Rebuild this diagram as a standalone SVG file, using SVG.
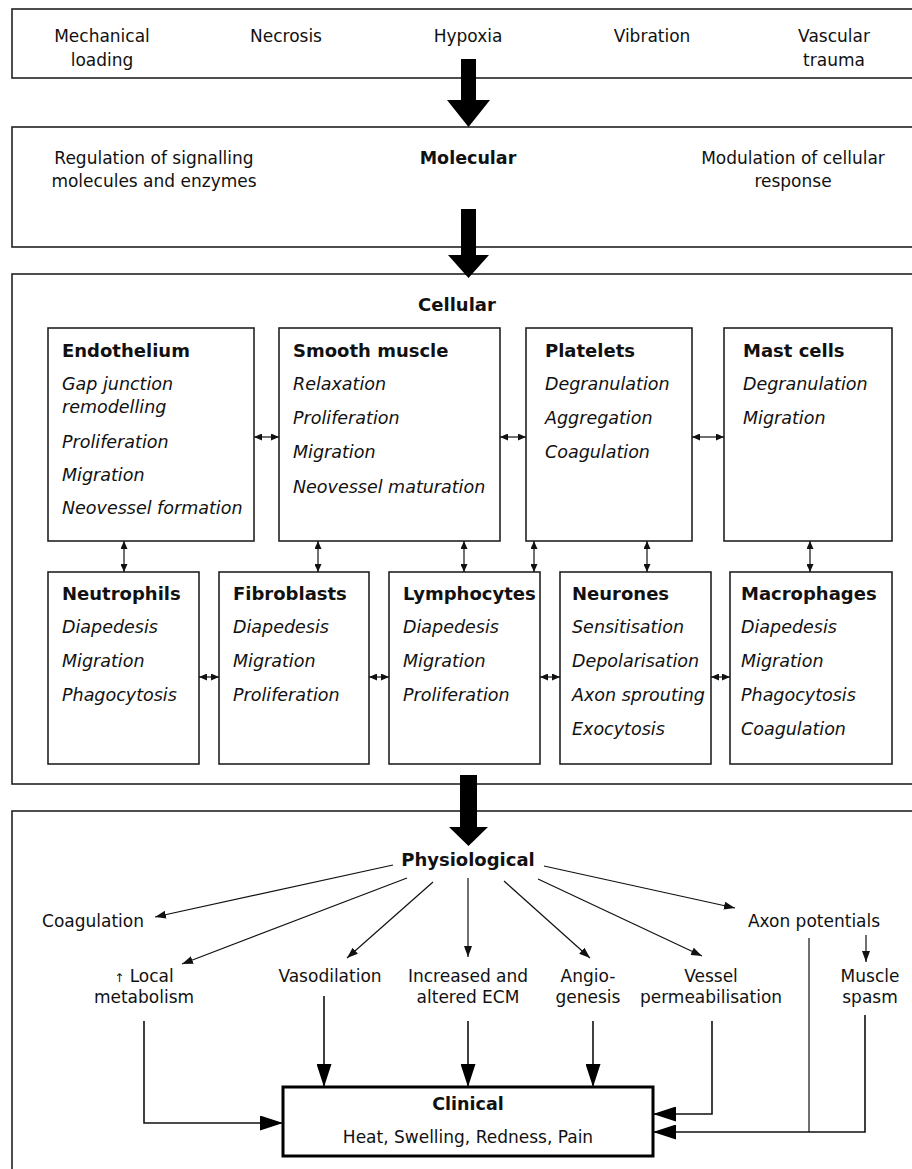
<svg xmlns="http://www.w3.org/2000/svg" width="912" height="1169" viewBox="0 0 912 1169">
<style>
text{font-family:"DejaVu Sans","Liberation Sans",sans-serif;fill:#111}
.l{font-size:17px;text-anchor:middle}
.b{font-weight:bold;font-size:18px}
.c{text-anchor:middle}
.i{font-style:italic;font-size:17.5px}
.box{fill:#fff;stroke:#222;stroke-width:1.6}
.sec{fill:none;stroke:#222;stroke-width:1.6}
.ln{fill:none;stroke:#111;stroke-width:1.2}
.th{fill:none;stroke:#111;stroke-width:1.6}
.dbl{fill:none;stroke:#111;stroke-width:1.2;marker-start:url(#s);marker-end:url(#s)}
.big{fill:#000}
</style>
<defs>
<marker id="s" viewBox="0 0 8 7" refX="8" refY="3.5" markerWidth="8" markerHeight="7" markerUnits="userSpaceOnUse" orient="auto-start-reverse"><path d="M0,0L8,3.5L0,7z" fill="#111"/></marker>
<marker id="a" viewBox="0 0 11 8" refX="11" refY="4" markerWidth="11" markerHeight="8" markerUnits="userSpaceOnUse" orient="auto"><path d="M0,0L11,4L0,8z" fill="#111"/></marker>
<marker id="A" viewBox="0 0 23 15" refX="23" refY="7.5" markerWidth="23" markerHeight="15" markerUnits="userSpaceOnUse" orient="auto"><path d="M0,0L23,7.5L0,15z" fill="#000"/></marker>
</defs>

<g id="sections">
<rect class="sec" x="12" y="9" width="920" height="69"/>
<rect class="sec" x="12" y="127" width="920" height="120"/>
<rect class="sec" x="12" y="274" width="920" height="510"/>
<rect class="sec" x="12" y="811" width="920" height="400"/>
</g>

<g id="causes">
<text class="l" x="102" y="42">Mechanical</text>
<text class="l" x="102" y="66">loading</text>
<text class="l" x="286" y="42">Necrosis</text>
<text class="l" x="468" y="42">Hypoxia</text>
<text class="l" x="652" y="42">Vibration</text>
<text class="l" x="834" y="42">Vascular</text>
<text class="l" x="834" y="66">trauma</text>
</g>

<g id="molecular">
<text class="l" x="154" y="164">Regulation of signalling</text>
<text class="l" x="154" y="187">molecules and enzymes</text>
<text class="b c" x="468" y="164" style="font-size:17.5px">Molecular</text>
<text class="l" x="793" y="164">Modulation of cellular</text>
<text class="l" x="793" y="187">response</text>
</g>

<g id="cellular-title">
<text class="b c" x="457" y="311">Cellular</text>
</g>

<g id="endothelium">
<rect class="box" x="48" y="328" width="206" height="213"/>
<text class="b" x="62" y="357">Endothelium</text>
<text class="i" x="62" y="390">Gap junction</text>
<text class="i" x="62" y="413">remodelling</text>
<text class="i" x="62" y="448">Proliferation</text>
<text class="i" x="62" y="481">Migration</text>
<text class="i" x="62" y="514">Neovessel formation</text>
</g>
<g id="smooth-muscle">
<rect class="box" x="279" y="328" width="221" height="213"/>
<text class="b" x="293" y="357">Smooth muscle</text>
<text class="i" x="293" y="390">Relaxation</text>
<text class="i" x="293" y="424">Proliferation</text>
<text class="i" x="293" y="458">Migration</text>
<text class="i" x="293" y="493">Neovessel maturation</text>
</g>
<g id="platelets">
<rect class="box" x="526" y="328" width="166" height="213"/>
<text class="b" x="545" y="357">Platelets</text>
<text class="i" x="545" y="390">Degranulation</text>
<text class="i" x="545" y="424">Aggregation</text>
<text class="i" x="545" y="458">Coagulation</text>
</g>
<g id="mast-cells">
<rect class="box" x="724" y="328" width="168" height="213"/>
<text class="b" x="743" y="357">Mast cells</text>
<text class="i" x="743" y="390">Degranulation</text>
<text class="i" x="743" y="424">Migration</text>
</g>

<g id="neutrophils">
<rect class="box" x="48" y="572" width="151" height="192"/>
<text class="b" x="62" y="600">Neutrophils</text>
<text class="i" x="62" y="633">Diapedesis</text>
<text class="i" x="62" y="667">Migration</text>
<text class="i" x="62" y="701">Phagocytosis</text>
</g>
<g id="fibroblasts">
<rect class="box" x="219" y="572" width="150" height="192"/>
<text class="b" x="233" y="600">Fibroblasts</text>
<text class="i" x="233" y="633">Diapedesis</text>
<text class="i" x="233" y="667">Migration</text>
<text class="i" x="233" y="701">Proliferation</text>
</g>
<g id="lymphocytes">
<rect class="box" x="389" y="572" width="151" height="192"/>
<text class="b" x="403" y="600">Lymphocytes</text>
<text class="i" x="403" y="633">Diapedesis</text>
<text class="i" x="403" y="667">Migration</text>
<text class="i" x="403" y="701">Proliferation</text>
</g>
<g id="neurones">
<rect class="box" x="560" y="572" width="151" height="192"/>
<text class="b" x="572" y="600">Neurones</text>
<text class="i" x="572" y="633">Sensitisation</text>
<text class="i" x="572" y="667">Depolarisation</text>
<text class="i" x="572" y="701">Axon sprouting</text>
<text class="i" x="572" y="735">Exocytosis</text>
</g>
<g id="macrophages">
<rect class="box" x="730" y="572" width="162" height="192"/>
<text class="b" x="741" y="600">Macrophages</text>
<text class="i" x="741" y="633">Diapedesis</text>
<text class="i" x="741" y="667">Migration</text>
<text class="i" x="741" y="701">Phagocytosis</text>
<text class="i" x="741" y="735">Coagulation</text>
</g>

<g id="physiological">
<text class="b c" x="468" y="866">Physiological</text>
<text class="l" x="93" y="927">Coagulation</text>
<text class="l" x="814" y="927">Axon potentials</text>
<text class="l" x="144" y="982"><tspan style="font-size:12px">↑</tspan> Local</text>
<text class="l" x="144" y="1003">metabolism</text>
<text class="l" x="330" y="982">Vasodilation</text>
<text class="l" x="468" y="982">Increased and</text>
<text class="l" x="468" y="1003">altered ECM</text>
<text class="l" x="588" y="982">Angio-</text>
<text class="l" x="588" y="1003">genesis</text>
<text class="l" x="711" y="982">Vessel</text>
<text class="l" x="711" y="1003">permeabilisation</text>
<text class="l" x="870" y="982">Muscle</text>
<text class="l" x="870" y="1003">spasm</text>
</g>

<g id="clinical">
<rect x="283" y="1087" width="370" height="69" fill="#fff" stroke="#000" stroke-width="3"/>
<text class="b c" x="468" y="1110" style="font-size:17.5px">Clinical</text>
<text class="l" x="468" y="1143" style="font-size:17px">Heat, Swelling, Redness, Pain</text>
</g>

<g id="connectors">
<polygon class="big" points="461,59 476,59 476,100 490,100 468.5,127 447,100 461,100"/>
<polygon class="big" points="461,209 476,209 476,255 489,255 468.5,278 448,255 461,255"/>
<polygon class="big" points="460,775 477,775 477,827 488,827 468.5,846 449,827 460,827"/>

<line class="dbl" x1="254" y1="437" x2="279" y2="437"/>
<line class="dbl" x1="500" y1="437" x2="526" y2="437"/>
<line class="dbl" x1="692" y1="437" x2="724" y2="437"/>
<line class="dbl" x1="199" y1="677" x2="219" y2="677"/>
<line class="dbl" x1="369" y1="677" x2="389" y2="677"/>
<line class="dbl" x1="540" y1="677" x2="560" y2="677"/>
<line class="dbl" x1="711" y1="677" x2="730" y2="677"/>

<line class="dbl" x1="124" y1="541" x2="124" y2="572"/>
<line class="dbl" x1="318" y1="541" x2="318" y2="572"/>
<line class="dbl" x1="464" y1="541" x2="464" y2="572"/>
<line class="dbl" x1="534" y1="541" x2="534" y2="572"/>
<line class="dbl" x1="647" y1="541" x2="647" y2="572"/>
<line class="dbl" x1="810" y1="541" x2="810" y2="572"/>

<line class="ln" marker-end="url(#a)" x1="393" y1="865" x2="155" y2="917"/>
<line class="ln" marker-end="url(#a)" x1="407" y1="878" x2="182" y2="964"/>
<line class="ln" marker-end="url(#a)" x1="433" y1="882" x2="347" y2="958"/>
<line class="ln" marker-end="url(#a)" x1="468" y1="878" x2="468" y2="957"/>
<line class="ln" marker-end="url(#a)" x1="504" y1="881" x2="590" y2="958"/>
<line class="ln" marker-end="url(#a)" x1="538" y1="879" x2="702" y2="956"/>
<line class="ln" marker-end="url(#a)" x1="544" y1="866" x2="735" y2="908"/>
<line class="ln" marker-end="url(#a)" x1="866" y1="935" x2="866" y2="962"/>
<line class="ln" x1="809" y1="938" x2="809" y2="1132"/>

<polyline class="th" marker-end="url(#A)" points="144,1021 144,1123 283,1123"/>
<line class="th" marker-end="url(#A)" x1="324" y1="996" x2="324" y2="1087"/>
<line class="th" marker-end="url(#A)" x1="468" y1="1021" x2="468" y2="1087"/>
<line class="th" marker-end="url(#A)" x1="593" y1="1021" x2="593" y2="1087"/>
<polyline class="th" marker-end="url(#A)" points="712,1021 712,1114 653,1114"/>
<polyline class="th" marker-end="url(#A)" points="865,1015 865,1132 653,1132"/>
</g>
</svg>
